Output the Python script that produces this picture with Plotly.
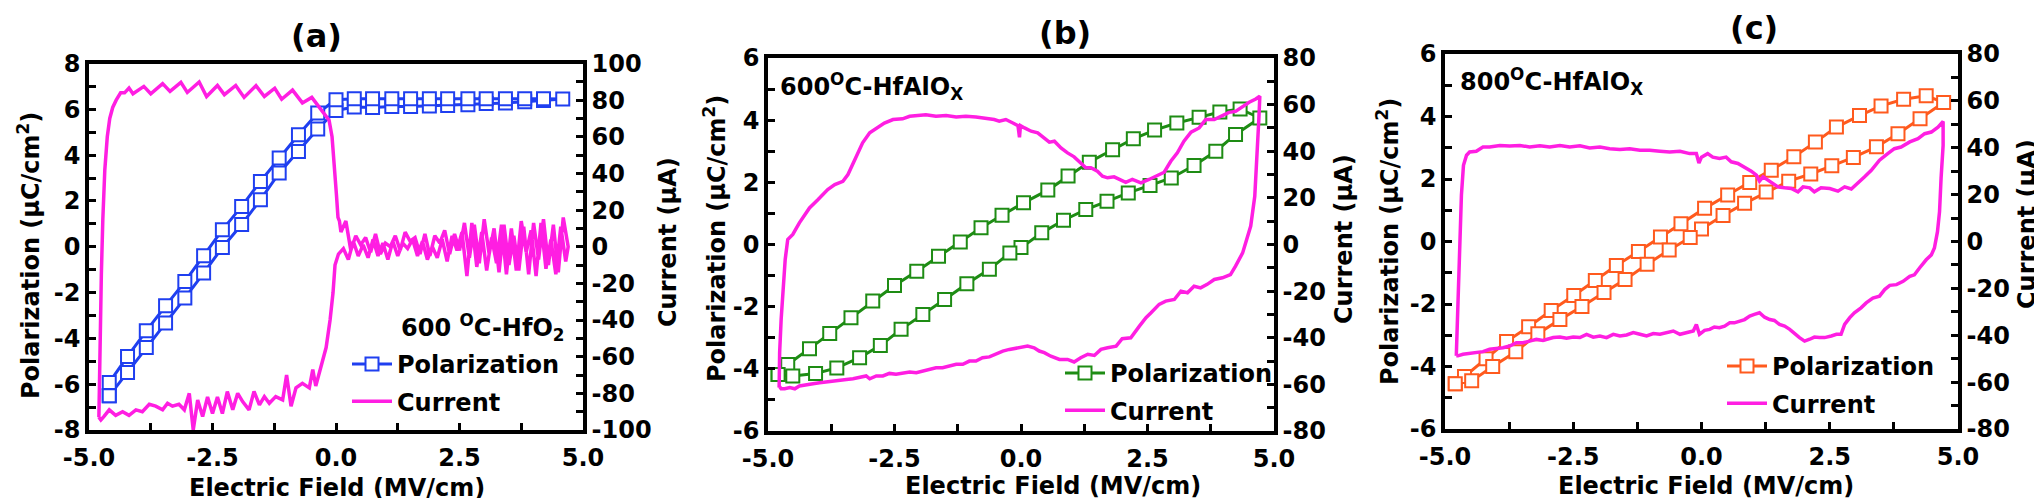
import plotly.graph_objects as go

# ---------------- (a) 600 C HfO2 ----------------
a_pol_x = [-4.59, -4.22, -3.84, -3.45, -3.06, -2.68, -2.30, -1.91, -1.53, -1.15, -0.76, -0.37, 0.0,
           0.37, 0.74, 1.13, 1.51, 1.89, 2.26, 2.67, 3.04, 3.43, 3.82, 4.20, 4.59,
           4.20, 3.82, 3.43, 3.04, 2.67, 2.26, 1.89, 1.51, 1.13, 0.74, 0.37, 0.0,
           -0.37, -0.76, -1.15, -1.53, -1.91, -2.30, -2.68, -3.06, -3.45, -3.84, -4.22, -4.59, -4.59]
a_pol_y = [-6.51, -5.49, -4.40, -3.33, -2.24, -1.15, -0.03, 0.97, 2.05, 3.22, 4.16, 5.14, 5.95,
           6.10, 6.08, 6.12, 6.12, 6.15, 6.17, 6.20, 6.25, 6.28, 6.33, 6.38, 6.45,
           6.46, 6.46, 6.46, 6.46, 6.46, 6.46, 6.46, 6.46, 6.46, 6.46, 6.46, 6.42,
           5.84, 4.89, 3.87, 2.85, 1.76, 0.74, -0.39, -1.52, -2.58, -3.67, -4.79, -5.93, -6.51]

a_cur_x = [-4.80, -4.79, -4.77, -4.75, -4.72, -4.68, -4.63, -4.58, -4.52, -4.45, -4.36, -4.28,
           -4.19, -4.11, -3.89, -3.75, -3.51, -3.36, -3.14, -3.01, -2.77, -2.62, -2.40, -2.26,
           -2.03, -1.86, -1.62, -1.45, -1.24, -1.10, -0.88, -0.68, -0.49, -0.37, -0.25, -0.14,
           -0.08, -0.03, 0.01, 0.04, 0.07,
           0.10, 0.20, 0.30, 0.40, 0.50, 0.60, 0.70, 0.80, 0.90, 1.00, 1.10, 1.20, 1.30, 1.40,
           1.50, 1.60, 1.70, 1.80, 1.90, 2.00, 2.10, 2.20, 2.30, 2.40, 2.50, 2.60, 2.70, 2.80,
           2.90, 3.00, 3.10, 3.20, 3.30, 3.40, 3.50, 3.60, 3.70, 3.80, 3.90, 4.00, 4.10, 4.20,
           4.30, 4.40, 4.50, 4.60, 4.70,
           4.65, 4.55, 4.45, 4.35, 4.25, 4.15, 4.05, 3.95, 3.85, 3.75, 3.65, 3.55, 3.45, 3.35,
           3.25, 3.15, 3.05, 2.95, 2.85, 2.75, 2.65, 2.55, 2.45, 2.35, 2.25, 2.15, 2.05, 1.95,
           1.85, 1.75, 1.65, 1.55, 1.45, 1.35, 1.25, 1.15, 1.05, 0.95, 0.85, 0.75, 0.65, 0.55,
           0.45, 0.35, 0.25, 0.15, 0.05,
           -0.02, -0.06, -0.12, -0.20, -0.28, -0.35, -0.41, -0.47, -0.54, -0.68, -0.81, -0.91,
           -1.00, -1.08, -1.22, -1.35, -1.45, -1.55, -1.66, -1.76, -1.89, -1.99, -2.09, -2.20,
           -2.30, -2.40, -2.50, -2.60, -2.70, -2.80, -2.89, -2.97, -3.07, -3.18, -3.31, -3.41,
           -3.51, -3.65, -3.78, -3.92, -4.05, -4.19, -4.32, -4.46, -4.59, -4.70, -4.76, -4.80]
a_cur_y = [-93, -75, -45, -15, 15, 42, 60, 70, 76, 80, 84, 84,
           86.6, 83.5, 87.5, 83.5, 89, 84.8, 89.7, 84.2, 89.9, 82, 88, 83,
           88, 81.5, 87.9, 82, 86.5, 80.5, 85.5, 78.5, 81.5, 77, 73, 69,
           60, 45, 28, 16, 14,
           8, 14, -2, 6, 1, 5, -3, 7, -4, 2, 0, 6, -2, 8,
           3, 5, -4, 7, -5, 6, 2, 9, -4, 7, -2, 13, -6, 12,
           -9, 15, -4, 10, -14, 12, -10, 6, -13, 11, -15, 13, -7, 15,
           -10, 12, -14, 16, 0,
           -8, 11, -15, 4, -12, 13, -16, 9, -3, 14, -13, 10, -15, 12,
           -9, 5, -13, 8, -11, 13, -16, 8, -2, 6, -8, 4, -6, 0,
           -7, 3, -5, 4, -1, 2, -5, 3, -7, 2, -5, 4, -6, 1,
           -5, 3, -7, -1, -4,
           -10, -25, -40, -55, -63, -70, -76, -67, -77, -74.5, -77, -87,
           -70, -83.6, -81.8, -85.4, -81.8, -86.3, -79, -89, -84.5, -80, -89, -79,
           -91, -82, -91, -82, -92.7, -83.6, -100, -80, -89, -86, -87, -85.4,
           -89, -87, -86, -90, -89, -92, -90, -92, -89, -92.7, -94.5, -93]

# ---------------- (b) 600 C HfAlOx ----------------
b_pol_x = [-4.80, -4.61, -4.18, -3.78, -3.36, -2.93, -2.50, -2.06, -1.63, -1.20, -0.79, -0.375,
           0.05, 0.53, 0.93, 1.35, 1.81, 2.22, 2.64, 3.08, 3.52, 3.93, 4.33,
           4.72, 4.24, 3.85, 3.42, 2.97, 2.55, 2.12, 1.70, 1.28, 0.84, 0.41, 0.0, -0.22,
           -0.625, -1.07, -1.51, -1.94, -2.37, -2.78, -3.19, -3.64, -4.06, -4.51, -4.80]
b_pol_y = [-4.18, -3.86, -3.35, -2.86, -2.36, -1.82, -1.32, -0.86, -0.38, 0.08, 0.54, 0.94,
           1.34, 1.75, 2.20, 2.65, 3.05, 3.40, 3.68, 3.91, 4.09, 4.26, 4.36,
           4.07, 3.54, 3.00, 2.54, 2.14, 1.90, 1.66, 1.39, 1.125, 0.78, 0.375, -0.10, -0.27,
           -0.80, -1.26, -1.77, -2.25, -2.73, -3.25, -3.64, -3.97, -4.15, -4.23, -4.18]

b_cur_x = [-4.78, -4.77, -4.74, -4.69, -4.66, -4.61, -4.51, -4.38, -4.18, -4.01, -3.82, -3.68,
           -3.52, -3.42, -3.29, -3.13, -2.99, -2.83, -2.70, -2.53, -2.34, -2.20, -2.04, -1.88,
           -1.68, -1.48, -1.28, -1.09, -0.89, -0.69, -0.53, -0.43, -0.30, -0.16, -0.06, -0.03,
           -0.01, 0.07, 0.20, 0.33, 0.46, 0.56, 0.66, 0.79, 0.92, 1.05, 1.18, 1.28, 1.38, 1.51,
           1.61, 1.71, 1.84, 1.97, 2.07, 2.20, 2.37, 2.53, 2.70, 2.83, 2.96, 3.09, 3.22, 3.36,
           3.52, 3.65, 3.82, 3.95, 4.11, 4.24, 4.38, 4.51, 4.64, 4.72,
           4.70, 4.67, 4.62, 4.54, 4.46, 4.38, 4.24, 4.14, 3.98, 3.82, 3.68, 3.55, 3.42, 3.29,
           3.16, 3.03, 2.86, 2.73, 2.57, 2.47, 2.34, 2.17, 2.00, 1.88, 1.71, 1.58, 1.45, 1.32,
           1.18, 1.05, 0.92, 0.76, 0.59, 0.46, 0.36, 0.26, 0.13, 0.03, -0.10, -0.23, -0.36,
           -0.49, -0.625, -0.76, -0.89, -1.02, -1.15, -1.28, -1.41, -1.55, -1.68, -1.81, -1.94,
           -2.07, -2.20, -2.34, -2.47, -2.60, -2.73, -2.86, -2.99, -3.06, -3.19, -3.32, -3.45,
           -3.59, -3.72, -3.85, -3.98, -4.11, -4.24, -4.38, -4.47, -4.57, -4.67, -4.74, -4.78]
b_cur_y = [-61.4, -46.4, -32, -17.9, -6.4, 2.1, 4.3, 9.3, 15.7, 19.3, 23.6, 25.7,
           27.1, 30, 36.4, 43.6, 47.9, 50, 52.1, 53.6, 53.9, 55, 55.3, 55.7,
           55, 55.3, 54.7, 55, 54.7, 54.2, 53.6, 52.9, 53.6, 52.1, 51, 46,
           51, 50, 48.6, 47.9, 45.7, 43.9, 44.3, 41.4, 39.3, 37.6, 35, 32.9, 32.9, 31.4,
           29.3, 28.6, 29, 27.9, 26.7, 27.9, 26.4, 27.9, 29.6, 31, 35.7, 39.3, 44.3, 48.2,
           50, 53.6, 53.6, 55, 56.7, 57.1, 59.3, 61, 62.4, 63.6,
           53.6, 39.3, 20.7, 7.9, 2.1, -3.6, -9.3, -12.9, -14.3, -15, -17.1, -18.6, -17.9, -20.7,
           -20, -23.6, -24.3, -25.7, -29.3, -31.4, -35, -40, -40.4, -43.6, -44.3, -45, -47.6, -47.1,
           -48.6, -50.4, -49.3, -49.3, -47.9, -46.4, -45.7, -44.3, -43.6, -43.9, -44.3, -45, -45.7,
           -47.1, -48.2, -48.6, -50, -50, -51.4, -51.4, -52.1, -52.9, -52.9, -53.6, -54.3,
           -55, -54.7, -55.3, -55.7, -55.3, -56.4, -56.4, -57.6, -56.4, -57.1, -57.6, -57.9,
           -58.2, -58.6, -59, -59.3, -59.7, -60, -60.7, -61.9, -61.4, -61.9, -61.9, -60.7]

# ---------------- (c) 800 C HfAlOx ----------------
c_pol_x = [-4.80, -4.62, -4.20, -3.80, -3.37, -2.93, -2.49, -2.07, -1.66, -1.23, -0.80, -0.40,
           0.06, 0.51, 0.94, 1.36, 1.80, 2.22, 2.63, 3.08, 3.50, 3.94, 4.38,
           4.72, 4.26, 3.83, 3.41, 2.96, 2.54, 2.13, 1.70, 1.26, 0.84, 0.42, 0.0, -0.22,
           -0.63, -1.06, -1.49, -1.90, -2.33, -2.76, -3.19, -3.62, -4.07, -4.48, -4.80]
c_pol_y = [-4.55, -4.32, -3.75, -3.20, -2.73, -2.21, -1.73, -1.25, -0.77, -0.32, 0.14, 0.57,
           1.06, 1.49, 1.89, 2.28, 2.71, 3.18, 3.66, 4.03, 4.34, 4.55, 4.66,
           4.45, 3.93, 3.45, 3.03, 2.69, 2.42, 2.16, 1.93, 1.58, 1.22, 0.83, 0.40, 0.13,
           -0.27, -0.73, -1.22, -1.63, -2.08, -2.50, -2.95, -3.53, -4.00, -4.46, -4.55]

c_cur_x = [-4.78, -4.75, -4.71, -4.68, -4.64, -4.58, -4.52, -4.39, -4.26, -4.13, -3.93, -3.74,
           -3.54, -3.35, -3.15, -2.96, -2.76, -2.57, -2.37, -2.18, -1.98, -1.79, -1.59, -1.40,
           -1.20, -1.01, -0.81, -0.62, -0.42, -0.23, -0.10, -0.05, 0.0, 0.12, 0.22, 0.35, 0.48,
           0.58, 0.71, 0.84, 0.97, 1.07, 1.13, 1.20, 1.29, 1.39, 1.49, 1.62, 1.75, 1.88, 1.98,
           2.11, 2.20, 2.33, 2.50, 2.66, 2.79, 2.92, 3.05, 3.18, 3.31, 3.47, 3.63, 3.76, 3.89,
           4.06, 4.22, 4.35, 4.48, 4.61, 4.71,
           4.71, 4.67, 4.64, 4.60, 4.54, 4.48, 4.38, 4.25, 4.15, 4.06, 3.93, 3.80, 3.67, 3.57,
           3.47, 3.34, 3.21, 3.11, 2.98, 2.89, 2.79, 2.72, 2.63, 2.53, 2.40, 2.30, 2.20, 2.11,
           2.01, 1.91, 1.81, 1.72, 1.62, 1.52, 1.42, 1.33, 1.23, 1.13, 1.03, 0.94, 0.84, 0.74,
           0.64, 0.55, 0.45, 0.35, 0.25, 0.16, 0.06, -0.04, -0.10, -0.16, -0.29, -0.42, -0.55,
           -0.68, -0.81, -0.94, -1.07, -1.20, -1.33, -1.46, -1.59, -1.72, -1.85, -1.98, -2.11,
           -2.24, -2.37, -2.50, -2.63, -2.76, -2.89, -3.09, -3.22, -3.35, -3.48, -3.61, -3.74,
           -3.87, -4.00, -4.13, -4.26, -4.39, -4.52, -4.65, -4.75, -4.78]
c_cur_y = [-48.8, -29.7, -1.4, 19.8, 32.5, 36.8, 38.2, 38.5, 40.3, 40.3, 41, 40.8,
           41, 40.3, 40.8, 40.3, 41, 40.3, 40.8, 39.9, 40.3, 39.6, 39.3, 39.6,
           38.9, 38.9, 38.5, 38.2, 38.5, 37.5, 37.5, 33.5, 36, 37.5, 36, 35.4, 36,
           34, 33.3, 31.8, 30, 28.3, 25.8, 27.6, 26.2, 24.8, 23.3, 22.9, 22.6, 21.2, 23.3,
           22.9, 21.2, 22.9, 22.6, 21.5, 23.3, 22.4, 24.8, 27.6, 30.4, 34.7, 37.5, 39.6, 40.3,
           42.5, 43.9, 46, 46.7, 48.8, 51.2,
           41, 26.9, 12.7, 4.2, -2.8, -5.7, -7.8, -11.3, -14.2, -14.9, -17, -18.4, -18.7, -20.5,
           -23.3, -24.1, -26.2, -28.3, -30.4, -32.5, -35.4, -39.6, -39.6, -40.3, -41, -41, -40.8, -41.7,
           -42.5, -41, -38.9, -37.5, -36.1, -35.4, -33.7, -33.3, -32.3, -30.4, -31.1, -31.8, -33.3, -34,
           -34.7, -34.7, -36.1, -36.8, -36.5, -37.5, -37.9, -39.6, -35.4, -38.2, -38.9, -39.6, -38.2,
           -38.9, -39.6, -39.3, -40.3, -39.6, -38.9, -39.9, -40.3, -39.6, -41, -40.3, -40.8,
           -39.6, -41, -40.8, -41.3, -40.8, -41, -42.2, -41.7, -42.5, -43.2, -43.2, -44.6,
           -45.3, -45.6, -46, -47, -47.4, -47.8, -48.1, -48.8, -48.8]

# tick labels
x_ticks = [-5, -2.5, 0, 2.5, 5]
x_labels = ["-5.0", "-2.5", "0.0", "2.5", "5.0"]
a_pol_ticks = [-8, -6, -4, -2, 0, 2, 4, 6, 8]
a_cur_ticks = [-100, -80, -60, -40, -20, 0, 20, 40, 60, 80, 100]
bc_pol_ticks = [-6, -4, -2, 0, 2, 4, 6]
bc_cur_ticks = [-80, -60, -40, -20, 0, 20, 40, 60, 80]

FONT = "DejaVu Sans"
W, H = 2042, 498
PINK = "#ff1ee2"


def px(v):
    return v / W


def py(v):
    return 1 - v / H


def tickfont():
    return dict(family=FONT, size=24, color="black", weight="bold")


def x_axis(left, right, anchor):
    return dict(domain=[px(left), px(right)], anchor=anchor, range=[-5, 5],
                tickmode="array", tickvals=x_ticks, ticktext=x_labels,
                ticks="inside", ticklen=7, tickwidth=3, tickcolor="black",
                minor=dict(tickmode="linear", tick0=-5, dtick=1.25, ticks="inside",
                           ticklen=7, tickwidth=3, tickcolor="black"),
                showline=True, linewidth=3.5, linecolor="black", mirror=True,
                showgrid=False, zeroline=False, tickfont=tickfont(), ticklabelstandoff=3)


def y_axis(top, bottom, anchor, rng, vals, minor_step, side="left", overlay=None):
    d = dict(range=rng, anchor=anchor, side=side,
             tickmode="array", tickvals=vals, ticktext=[str(v) for v in vals],
             ticks="inside", ticklen=7, tickwidth=3, tickcolor="black",
             minor=dict(tickmode="linear", tick0=rng[0], dtick=minor_step, ticks="inside",
                        ticklen=7, tickwidth=3, tickcolor="black"),
             showline=True, linewidth=3.5, linecolor="black",
             showgrid=False, zeroline=False, tickfont=tickfont())
    if overlay:
        d["overlaying"] = overlay
    else:
        d["domain"] = [py(bottom), py(top)]
    return d


def pol_trace(x, y, color, xa, ya, legend):
    return go.Scatter(x=x, y=y, mode="lines+markers", name="Polarization",
                      legendgroup="pol", line=dict(color=color, width=3),
                      marker=dict(symbol="square", size=13, color="white",
                                  line=dict(color=color, width=2)),
                      xaxis=xa, yaxis=ya, legend=legend)


def cur_trace(x, y, xa, ya, legend):
    return go.Scatter(x=x, y=y, mode="lines", name="Current", legendgroup="cur",
                      line=dict(color=PINK, width=3.5),
                      xaxis=xa, yaxis=ya, legend=legend)


fig = go.Figure(data=[
    pol_trace(a_pol_x, a_pol_y, "#1f3ff0", "x", "y", "legend"),
    cur_trace(a_cur_x, a_cur_y, "x", "y2", "legend"),
    pol_trace(b_pol_x, b_pol_y, "#1e8c14", "x2", "y3", "legend2"),
    cur_trace(b_cur_x, b_cur_y, "x2", "y4", "legend2"),
    pol_trace(c_pol_x, c_pol_y, "#ff5a1e", "x3", "y5", "legend3"),
    cur_trace(c_cur_x, c_cur_y, "x3", "y6", "legend3"),
])


def legend_at(left, top):
    return dict(x=px(left), y=py(top), xanchor="left", yanchor="top",
                bgcolor="rgba(0,0,0,0)", itemwidth=40, tracegroupgap=3,
                traceorder="grouped",
                font=dict(family=FONT, size=24, color="black", weight="bold"))


def note(text, x, y, size=24, angle=0, xanchor="center"):
    return dict(text=text, x=px(x), y=py(y), xref="paper", yref="paper",
                xanchor=xanchor, yanchor="middle", showarrow=False, textangle=angle,
                font=dict(family=FONT, size=size, color="black", weight="bold"))


fig.update_layout(
    width=W, height=H, template="none",
    margin=dict(l=0, r=0, t=0, b=0),
    paper_bgcolor="white", plot_bgcolor="white",
    xaxis=x_axis(81, 575, "y"),
    yaxis=y_axis(55.5, 422, "x", [-8, 8], a_pol_ticks, 1),
    yaxis2=y_axis(0, 0, "x", [-100, 100], a_cur_ticks, 10, side="right", overlay="y"),
    xaxis2=x_axis(760, 1266, "y3"),
    yaxis3=y_axis(50, 423, "x2", [-6, 6], bc_pol_ticks, 1),
    yaxis4=y_axis(0, 0, "x2", [-80, 80], bc_cur_ticks, 10, side="right", overlay="y3"),
    xaxis3=x_axis(1437, 1950, "y5"),
    yaxis5=y_axis(46, 421, "x3", [-6, 6], bc_pol_ticks, 1),
    yaxis6=y_axis(0, 0, "x3", [-80, 80], bc_cur_ticks, 10, side="right", overlay="y5"),
    legend=legend_at(339, 334),
    legend2=legend_at(1052, 343),
    legend3=legend_at(1714, 336),
    annotations=[
        note("(a)", 308, 28, size=32),
        note("(b)", 1057, 25, size=32),
        note("(c)", 1746, 20, size=32),
        note("600 <sup>O</sup>C-HfO<sub>2</sub>", 558, 319, xanchor="right"),
        note("600<sup>O</sup>C-HfAlO<sub>X</sub>", 770, 79, xanchor="left"),
        note("800<sup>O</sup>C-HfAlO<sub>X</sub>", 1450, 74, xanchor="left"),
        note("Electric Field (MV/cm)", 329, 480),
        note("Electric Field (MV/cm)", 1045, 478),
        note("Electric Field (MV/cm)", 1698, 478),
        note("Polarization (µC/cm<sup>2</sup>)", 21, 248, angle=-90),
        note("Polarization (µC/cm<sup>2</sup>)", 707, 231, angle=-90),
        note("Polarization (µC/cm<sup>2</sup>)", 1380, 234, angle=-90),
        note("Current (µA)", 660, 234, angle=-90),
        note("Current (µA)", 1336, 231, angle=-90),
        note("Current (µA)", 2019, 216, angle=-90),
    ],
)

fig.write_html("out.html")
